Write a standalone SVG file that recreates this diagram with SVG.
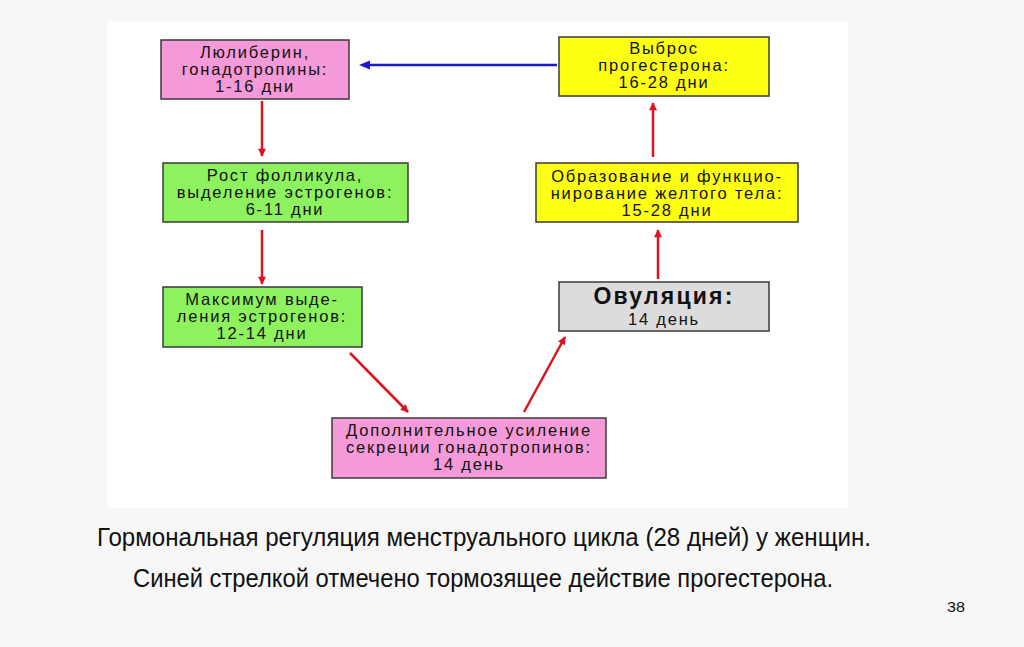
<svg xmlns="http://www.w3.org/2000/svg" width="1024" height="647" viewBox="0 0 1024 647">
<defs>
<marker id="ar" viewBox="0 0 10 10" refX="9" refY="5" markerWidth="10" markerHeight="8" markerUnits="userSpaceOnUse" orient="auto"><path d="M0,0 L10,5 L0,10 Z" fill="#dc1420"/></marker>
<style>
.box{stroke:#3a3a3a;stroke-width:1.5}
.pink{fill:#f59ad8}
.green{fill:#8ef25e}
.yellow{fill:#ffff14}
.gray{fill:#dcdcdc}
.t{font-family:"Liberation Sans",Arial,sans-serif;font-size:16.5px;letter-spacing:1.8px;fill:#111;text-anchor:middle}
.red{stroke:#dc1420;stroke-width:2.5;fill:none;marker-end:url(#ar)}
.cap{font-family:"Liberation Sans",Arial,sans-serif;fill:#111}
</style>
</defs>
<rect width="1024" height="647" fill="#f7f7f7"/>
<rect x="107" y="21" width="741" height="487" fill="#ffffff"/>
<g id="connectors">
<line x1="557" y1="65" x2="366" y2="65" stroke="#1a1ad0" stroke-width="2.5"/>
<path d="M359,65 L370,60.5 L370,69.5 Z" fill="#1a1ad0"/>
<line class="red" x1="262" y1="101" x2="262" y2="156"/>
<line class="red" x1="262" y1="230" x2="262" y2="284"/>
<line class="red" x1="350" y1="353" x2="408" y2="412"/>
<line class="red" x1="524" y1="412" x2="565" y2="337"/>
<line class="red" x1="658" y1="279" x2="658" y2="230"/>
<line class="red" x1="653" y1="157" x2="653" y2="103"/>
</g>
<g id="n1"><rect class="box pink" x="161" y="40" width="188" height="59"/>
<text class="t" x="255" y="58">Люлиберин,</text><text class="t" x="255" y="75">гонадотропины:</text><text class="t" x="255" y="92">1-16 дни</text></g>
<g id="n2"><rect class="box green" x="163" y="163" width="245" height="59"/>
<text class="t" x="285" y="181">Рост фолликула,</text><text class="t" x="285" y="198">выделение эстрогенов:</text><text class="t" x="285" y="215">6-11 дни</text></g>
<g id="n3"><rect class="box green" x="163" y="287" width="199" height="60"/>
<text class="t" x="262" y="305">Максимум выде-</text><text class="t" x="262" y="322">ления эстрогенов:</text><text class="t" x="262" y="339">12-14 дни</text></g>
<g id="n4"><rect class="box pink" x="332" y="418" width="274" height="60"/>
<text class="t" x="469" y="436">Дополнительное усиление</text><text class="t" x="469" y="453">секреции гонадотропинов:</text><text class="t" x="469" y="470">14 день</text></g>
<g id="n5"><rect class="box gray" x="559" y="282" width="210" height="49"/>
<text class="t" x="664" y="304" style="font-size:23px;font-weight:bold;letter-spacing:2.2px">Овуляция:</text><text class="t" x="664" y="325">14 день</text></g>
<g id="n6"><rect class="box yellow" x="536" y="163" width="262" height="59"/>
<text class="t" x="667" y="182">Образование и функцио-</text><text class="t" x="667" y="199">нирование желтого тела:</text><text class="t" x="667" y="216">15-28 дни</text></g>
<g id="n7"><rect class="box yellow" x="559" y="37" width="210" height="59"/>
<text class="t" x="664" y="54">Выброс</text><text class="t" x="664" y="71">прогестерона:</text><text class="t" x="664" y="88">16-28 дни</text></g>
<text class="cap" x="97" y="546" font-size="25" textLength="774" lengthAdjust="spacingAndGlyphs">Гормональная регуляция менструального цикла (28 дней) у женщин.</text>
<text class="cap" x="133" y="587" font-size="25" textLength="700" lengthAdjust="spacingAndGlyphs">Синей стрелкой отмечено тормозящее действие прогестерона.</text>
<text class="cap" x="947" y="612" font-size="14" textLength="18" lengthAdjust="spacingAndGlyphs">38</text>
</svg>
